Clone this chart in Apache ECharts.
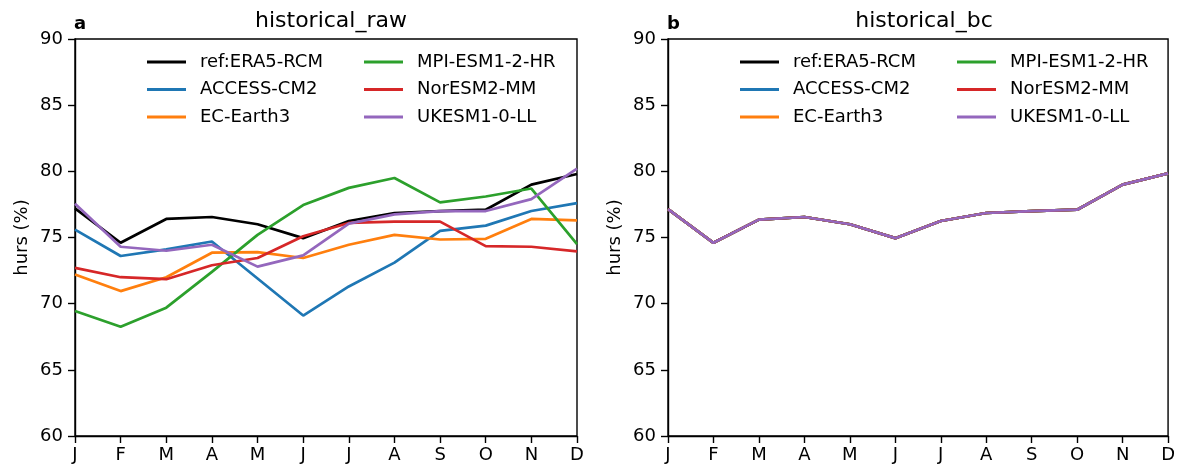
<!DOCTYPE html>
<html>
<head>
<meta charset="utf-8">
<script src="https://cdn.jsdelivr.net/npm/echarts@6/dist/echarts.min.js"></script>
<style>
  html, body { margin: 0; padding: 0; background: #fff; }
  #chart { width: 1178px; height: 470px; }
</style>
</head>
<body>
<div id="chart"></div>
<script>
// Month tick labels
const months = ['J', 'F', 'M', 'A', 'M', 'J', 'J', 'A', 'S', 'O', 'N', 'D'];
const yTicks = [60, 65, 70, 75, 80, 85, 90];

// Model names in drawing order
const modelNames = ['ref:ERA5-RCM', 'ACCESS-CM2', 'EC-Earth3', 'MPI-ESM1-2-HR', 'NorESM2-MM', 'UKESM1-0-LL'];

// Monthly mean relative humidity (%), raw historical runs
const rawERA5   = [77.2, 74.6, 76.4, 76.55, 76.0, 74.95, 76.25, 76.85, 77.0, 77.1, 79.0, 79.8];
const rawACCESS = [75.6, 73.6, 74.1, 74.7, 71.9, 69.1, 71.3, 73.1, 75.5, 75.9, 77.0, 77.6];
const rawECEarth = [72.2, 70.95, 72.0, 73.85, 73.9, 73.45, 74.45, 75.2, 74.85, 74.9, 76.4, 76.3];
const rawMPI    = [69.45, 68.25, 69.7, 72.4, 75.2, 77.45, 78.75, 79.5, 77.65, 78.1, 78.7, 74.5];
const rawNorESM = [72.7, 72.0, 71.85, 72.9, 73.45, 75.1, 76.1, 76.2, 76.2, 74.35, 74.3, 73.95];
const rawUKESM  = [77.55, 74.3, 74.0, 74.45, 72.8, 73.65, 76.05, 76.75, 77.0, 77.0, 77.9, 80.2];

// Bias-corrected historical runs
const bcERA5   = [77.15, 74.6, 76.35, 76.55, 76.0, 74.95, 76.25, 76.85, 77.0, 77.1, 79.0, 79.85];
const bcACCESS = [77.15, 74.6, 76.35, 76.55, 76.0, 74.95, 76.25, 76.85, 77.0, 77.1, 79.0, 79.85];
const bcECEarth = [77.15, 74.6, 76.35, 76.55, 76.0, 74.95, 76.25, 76.85, 77.0, 77.1, 79.0, 79.85];
const bcMPI    = [77.15, 74.6, 76.35, 76.55, 76.0, 74.95, 76.25, 76.85, 77.0, 77.1, 79.0, 79.85];
const bcNorESM = [77.15, 74.6, 76.35, 76.55, 76.0, 74.95, 76.25, 76.85, 77.0, 77.1, 79.0, 79.85];
const bcUKESM  = [77.15, 74.6, 76.35, 76.55, 76.0, 74.95, 76.25, 76.85, 77.0, 77.1, 79.0, 79.85];

const rawSets = [rawERA5, rawACCESS, rawECEarth, rawMPI, rawNorESM, rawUKESM];
const bcSets = [bcERA5, bcACCESS, bcECEarth, bcMPI, bcNorESM, bcUKESM];
const colors = ['#000000', '#1f77b4', '#ff7f0e', '#2ca02c', '#d62728', '#9467bd'];

const FONT = 'DejaVu Sans';
const panelLeft = [75, 668];
const panelWidth = 502;
const panelTop = 39;
const panelHeight = 397;

function xAxisFor(i) {
  return {
    type: 'category', gridIndex: i, data: months, boundaryGap: false,
    axisLine: { show: true, lineStyle: { color: '#000', width: 1.4 } },
    axisTick: { show: true, inside: false, length: 7, alignWithLabel: true, lineStyle: { color: '#000', width: 1.4 } },
    axisLabel: { color: '#000', fontFamily: FONT, fontSize: 18, margin: 10, interval: 0 },
    splitLine: { show: false }
  };
}
function yAxisFor(i) {
  return {
    type: 'value', gridIndex: i, min: yTicks[0], max: yTicks[yTicks.length - 1], interval: 5,
    name: 'hurs (%)', nameLocation: 'middle', nameGap: 44, nameRotate: 90, nameMoveOverlap: false,
    nameTextStyle: { color: '#000', fontFamily: FONT, fontSize: 18 },
    axisLine: { show: true, lineStyle: { color: '#000', width: 1.4 } },
    axisTick: { show: true, inside: false, length: 7, lineStyle: { color: '#000', width: 1.4 } },
    axisLabel: { color: '#000', fontFamily: FONT, fontSize: 18, margin: 12 },
    splitLine: { show: false }
  };
}
function legendFor(left, names) {
  return {
    orient: 'vertical', left: left, top: 53, padding: 0,
    icon: 'rect', itemWidth: 39, itemHeight: 3, itemGap: 9.5,
    selectedMode: false,
    data: names,
    textStyle: { color: '#000', fontFamily: FONT, fontSize: 18, lineHeight: 18, padding: [0, 0, 0, 9] }
  };
}

const series = [];
[rawSets, bcSets].forEach(function (sets, p) {
  sets.forEach(function (vals, k) {
    series.push({
      name: modelNames[k], type: 'line', xAxisIndex: p, yAxisIndex: p,
      data: vals, showSymbol: false, symbol: 'none',
      lineStyle: { color: colors[k], width: 2.7 }, itemStyle: { color: colors[k] },
      z: 2 + k, animation: false
    });
  });
});

const chart = echarts.init(document.getElementById('chart'), null, { renderer: 'canvas' });
chart.setOption({
  backgroundColor: '#fff',
  animation: false,
  title: [
    { text: 'historical_raw', left: panelLeft[0] + panelWidth / 2, textAlign: 'center', top: 5,
      textStyle: { color: '#000', fontFamily: FONT, fontSize: 22, fontWeight: 'normal' } },
    { text: 'historical_bc', left: panelLeft[1] + panelWidth / 2, textAlign: 'center', top: 5,
      textStyle: { color: '#000', fontFamily: FONT, fontSize: 22, fontWeight: 'normal' } },
    { text: 'a', left: 74, top: 15, padding: 0,
      textStyle: { color: '#000', fontFamily: FONT, fontSize: 18, fontWeight: 'bold' } },
    { text: 'b', left: 667, top: 15, padding: 0,
      textStyle: { color: '#000', fontFamily: FONT, fontSize: 18, fontWeight: 'bold' } }
  ],
  legend: [
    legendFor(147, modelNames.slice(0, 3)),
    legendFor(364, modelNames.slice(3)),
    legendFor(147 + 593, modelNames.slice(0, 3)),
    legendFor(364 + 593, modelNames.slice(3))
  ],
  grid: panelLeft.map(function (l) {
    return { left: l, top: panelTop, width: panelWidth, height: panelHeight,
             show: true, borderColor: '#000', borderWidth: 1.4, backgroundColor: 'transparent' };
  }),
  xAxis: [xAxisFor(0), xAxisFor(1)],
  yAxis: [yAxisFor(0), yAxisFor(1)],
  series: series
});
</script>
</body>
</html>
